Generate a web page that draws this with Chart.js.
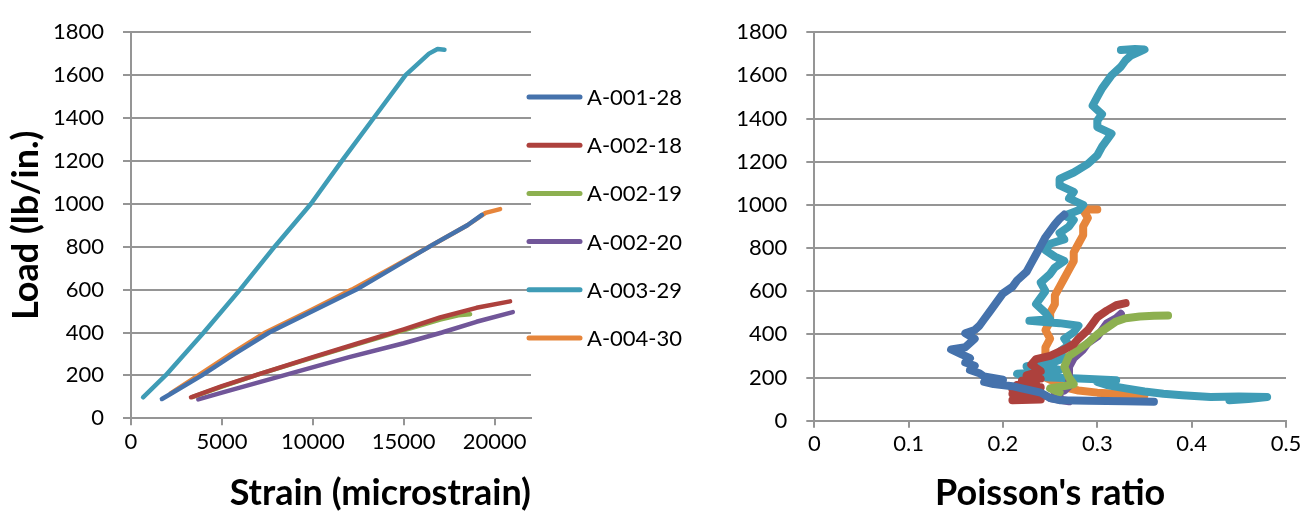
<!DOCTYPE html>
<html>
<head>
<meta charset="utf-8">
<script src="https://cdn.jsdelivr.net/npm/chart.js@4.4.1/dist/chart.umd.min.js"></script>
<style>
  body { margin: 0; background: #fff; }
  #wrap { position: relative; width: 1312px; height: 511px; }
  #left { position: absolute; left: 0; top: 0; }
  #right { position: absolute; left: 700px; top: 0; }
</style>
</head>
<body>
<div id="wrap">
  <canvas id="left" width="700" height="511"></canvas>
  <canvas id="right" width="612" height="511"></canvas>
</div>
<script>
// series names and colours
const seriesNames = ['A-001-28', 'A-002-18', 'A-002-19', 'A-002-20', 'A-003-29', 'A-004-30'];
const seriesColors = ['#4572AC', '#AD413D', '#8DB050', '#715699', '#3F9CB6', '#E6853B'];

// axis ticks
const strainTicks = [0, 5000, 10000, 15000, 20000];
const loadTicks = [0, 200, 400, 600, 800, 1000, 1200, 1400, 1600, 1800];
const ratioTicks = [0, 0.1, 0.2, 0.3, 0.4, 0.5];

// left chart: strain (microstrain) vs load (lb/in.)
const strain_001_28 = [1700, 2100, 3900, 5700, 7600, 10000, 12400, 14500, 16650, 18500, 19300];
const load_001_28   = [90, 110, 200, 300, 400, 500, 600, 705, 812, 900, 948];
const strain_002_18 = [3300, 5000, 7000, 10000, 12500, 15000, 17000, 19000, 20850];
const load_002_18   = [98, 150, 205, 285, 350, 415, 470, 515, 545];
const strain_002_19 = [3400, 5000, 7000, 10000, 12500, 15000, 17000, 18000, 18650];
const load_002_19   = [100, 148, 205, 283, 347, 410, 460, 480, 485];
const strain_002_20 = [3700, 5000, 8400, 12000, 15000, 17100, 19000, 21000];
const load_002_20   = [88, 120, 200, 285, 350, 400, 450, 495];
const strain_003_29 = [663, 1900, 4000, 6000, 7900, 9900, 11600, 13350, 15100, 16390, 16860, 17240];
const load_003_29   = [98, 200, 400, 600, 800, 1000, 1200, 1400, 1600, 1700, 1722, 1718];
const strain_004_30 = [2180, 3700, 5500, 7390, 9800, 12140, 14300, 16400, 18500, 19500, 20300];
const load_004_30   = [116, 200, 300, 400, 500, 600, 700, 800, 900, 958, 975];

// right chart: Poisson's ratio vs load (lb/in.)
const ratio_001_28 = [0.36, 0.33, 0.29, 0.26, 0.25, 0.24, 0.22, 0.21, 0.19, 0.18, 0.2, 0.18, 0.175, 0.165, 0.17, 0.16, 0.165, 0.155, 0.145, 0.16, 0.165, 0.17, 0.16, 0.17, 0.175, 0.18, 0.185, 0.19, 0.195, 0.2, 0.21, 0.215, 0.225, 0.23, 0.235, 0.24, 0.245, 0.25, 0.255, 0.26, 0.265];
const rload_001_28 = [88, 90, 92, 95, 105, 130, 150, 160, 170, 180, 190, 205, 220, 235, 255, 270, 290, 310, 330, 340, 360, 380, 405, 420, 440, 470, 500, 530, 560, 590, 620, 650, 690, 730, 770, 810, 850, 880, 910, 935, 955];
const ratio_002_18 = [0.21, 0.24, 0.215, 0.245, 0.21, 0.235, 0.21, 0.24, 0.215, 0.235, 0.22, 0.24, 0.225, 0.24, 0.23, 0.235, 0.25, 0.265, 0.275, 0.28, 0.29, 0.295, 0.3, 0.31, 0.32, 0.33];
const rload_002_18 = [95, 98, 105, 115, 125, 135, 145, 155, 165, 175, 185, 195, 210, 230, 260, 285, 300, 330, 355, 380, 420, 450, 480, 510, 535, 545];
const ratio_002_19 = [0.26, 0.25, 0.265, 0.275, 0.27, 0.265, 0.27, 0.28, 0.29, 0.3, 0.31, 0.32, 0.33, 0.345, 0.36, 0.375];
const rload_002_19 = [130, 150, 160, 170, 200, 250, 300, 330, 360, 400, 430, 460, 475, 483, 486, 487];
const ratio_002_20 = [0.27, 0.25, 0.26, 0.255, 0.265, 0.27, 0.27, 0.275, 0.285, 0.29, 0.3, 0.305, 0.31, 0.32, 0.325];
const rload_002_20 = [90, 105, 115, 130, 140, 160, 250, 290, 330, 360, 390, 420, 450, 475, 495];
const ratio_003_29 = [0.44, 0.46, 0.48, 0.45, 0.42, 0.39, 0.37, 0.35, 0.33, 0.31, 0.3, 0.32, 0.28, 0.25, 0.22, 0.215, 0.24, 0.26, 0.25, 0.225, 0.25, 0.265, 0.26, 0.27, 0.265, 0.275, 0.28, 0.26, 0.228, 0.25, 0.245, 0.235, 0.24, 0.245, 0.24, 0.25, 0.255, 0.265, 0.255, 0.245, 0.25, 0.265, 0.26, 0.27, 0.275, 0.265, 0.28, 0.285, 0.27, 0.275, 0.26, 0.26, 0.275, 0.29, 0.3, 0.305, 0.31, 0.315, 0.3, 0.3, 0.305, 0.295, 0.3, 0.305, 0.31, 0.315, 0.325, 0.33, 0.335, 0.345, 0.35, 0.34, 0.325];
const rload_003_29 = [95, 100, 110, 112, 110, 118, 125, 135, 150, 165, 180, 188, 195, 200, 210, 218, 225, 235, 245, 252, 265, 290, 320, 350, 380, 410, 440, 452, 463, 470, 500, 540, 570, 600, 640, 680, 710, 740, 760, 790, 820, 840, 870, 900, 930, 950, 975, 1000, 1030, 1060, 1090, 1120, 1150, 1190, 1230, 1270, 1300, 1330, 1360, 1390, 1420, 1460, 1500, 1540, 1570, 1600, 1640, 1670, 1690, 1710, 1720, 1722, 1718];
const ratio_004_30 = [0.35, 0.33, 0.3, 0.28, 0.27, 0.26, 0.255, 0.245, 0.25, 0.245, 0.25, 0.245, 0.245, 0.25, 0.245, 0.25, 0.25, 0.255, 0.255, 0.26, 0.265, 0.27, 0.275, 0.275, 0.28, 0.285, 0.285, 0.29, 0.285, 0.29, 0.3];
const rload_004_30 = [118, 122, 130, 140, 150, 165, 180, 200, 215, 240, 270, 300, 340, 380, 420, 460, 500, 540, 580, 620, 660, 700, 740, 780, 820, 860, 900, 940, 975, 978, 978];

const leftX = [strain_001_28, strain_002_18, strain_002_19, strain_002_20, strain_003_29, strain_004_30];
const leftY = [load_001_28, load_002_18, load_002_19, load_002_20, load_003_29, load_004_30];
const rightX = [ratio_001_28, ratio_002_18, ratio_002_19, ratio_002_20, ratio_003_29, ratio_004_30];
const rightY = [rload_001_28, rload_002_18, rload_002_19, rload_002_20, rload_003_29, rload_004_30];

const FONT = 'Lato, "Noto Sans", sans-serif';
const gridColor = '#959595';

function pts(xs, ys) {
  return xs.map((x, i) => ({ x: x, y: ys[i] }));
}

function makeDatasets(xs, ys, width) {
  return seriesNames.map((name, i) => ({
    label: name,
    data: pts(xs[i], ys[i]),
    showLine: true,
    borderColor: seriesColors[i],
    backgroundColor: seriesColors[i],
    borderWidth: width,
    pointRadius: 0,
    borderCapStyle: 'round',
    borderJoinStyle: 'round',
    tension: 0
  }));
}

function tickSetter(values) {
  return function (scale) {
    scale.ticks = values.map(v => ({ value: v }));
  };
}

const plainLabel = v => String(v);

const sideLegend = {
  id: 'sideLegend',
  afterDraw(chart) {
    const ctx = chart.ctx;
    ctx.save();
    chart.data.datasets.forEach((ds, i) => {
      const y = 97 + i * 48.2;
      ctx.strokeStyle = ds.borderColor;
      ctx.lineWidth = 5;
      ctx.lineCap = 'round';
      ctx.beginPath();
      ctx.moveTo(529, y);
      ctx.lineTo(580, y);
      ctx.stroke();
      ctx.fillStyle = '#000';
      ctx.font = '22px ' + FONT;
      ctx.textBaseline = 'middle';
      ctx.textAlign = 'left';
      ctx.fillText(ds.label, 587, y + 1);
    });
    ctx.restore();
  }
};

function axisY(width, withTitle) {
  return {
    type: 'linear',
    min: 0,
    max: 1800,
    afterBuildTicks: tickSetter(loadTicks),
    afterFit: s => { s.width = width; },
    ticks: { color: '#000', padding: 19, callback: plainLabel, font: { family: FONT, size: 22 } },
    grid: { color: gridColor, lineWidth: 2, tickLength: 8 },
    border: { color: gridColor, width: 2 },
    title: {
      display: withTitle,
      text: 'Load (lb/in.)',
      color: '#000',
      padding: { top: 8, bottom: 0 },
      font: { family: FONT, size: 36, weight: 'bold', lineHeight: 1 }
    }
  };
}

new Chart(document.getElementById('left'), {
  type: 'scatter',
  data: { datasets: makeDatasets(leftX, leftY, 4.5) },
  options: {
    responsive: false,
    animation: false,
    layout: { padding: { top: 22, right: 169, left: 0, bottom: 0 } },
    plugins: { legend: { display: false }, tooltip: { enabled: false } },
    scales: {
      x: {
        type: 'linear',
        min: 0,
        max: 22000,
        afterBuildTicks: tickSetter(strainTicks),
        afterFit: s => { s.height = 92.7; },
        ticks: { color: '#000', padding: 3, maxRotation: 0, callback: plainLabel, font: { family: FONT, size: 22 } },
        grid: { drawOnChartArea: false, color: gridColor, lineWidth: 2, tickLength: 7 },
        border: { color: gridColor, width: 2 },
        title: {
          display: true,
          text: 'Strain (microstrain)',
          align: 'end',
          color: '#000',
          padding: { top: 0, bottom: 0 },
          font: { family: FONT, size: 36, weight: 'bold', lineHeight: 1 }
        }
      },
      y: axisY(131, true)
    }
  },
  plugins: [sideLegend]
});

new Chart(document.getElementById('right'), {
  type: 'scatter',
  data: { datasets: makeDatasets(rightX, rightY, 8) },
  options: {
    responsive: false,
    animation: false,
    layout: { padding: { top: 23, right: 26, left: 0, bottom: 0 } },
    plugins: { legend: { display: false }, tooltip: { enabled: false } },
    scales: {
      x: {
        type: 'linear',
        min: 0,
        max: 0.5,
        afterBuildTicks: tickSetter(ratioTicks),
        afterFit: s => { s.height = 90.3; },
        ticks: { color: '#000', padding: 3, maxRotation: 0, callback: plainLabel, font: { family: FONT, size: 22 } },
        grid: { drawOnChartArea: false, color: gridColor, lineWidth: 2, tickLength: 7 },
        border: { color: gridColor, width: 2 },
        title: {
          display: true,
          text: "Poisson's ratio",
          color: '#000',
          padding: { top: 0, bottom: 0 },
          font: { family: FONT, size: 36, weight: 'bold', lineHeight: 1 }
        }
      },
      y: axisY(114.3, false)
    }
  }
});
</script>
</body>
</html>
